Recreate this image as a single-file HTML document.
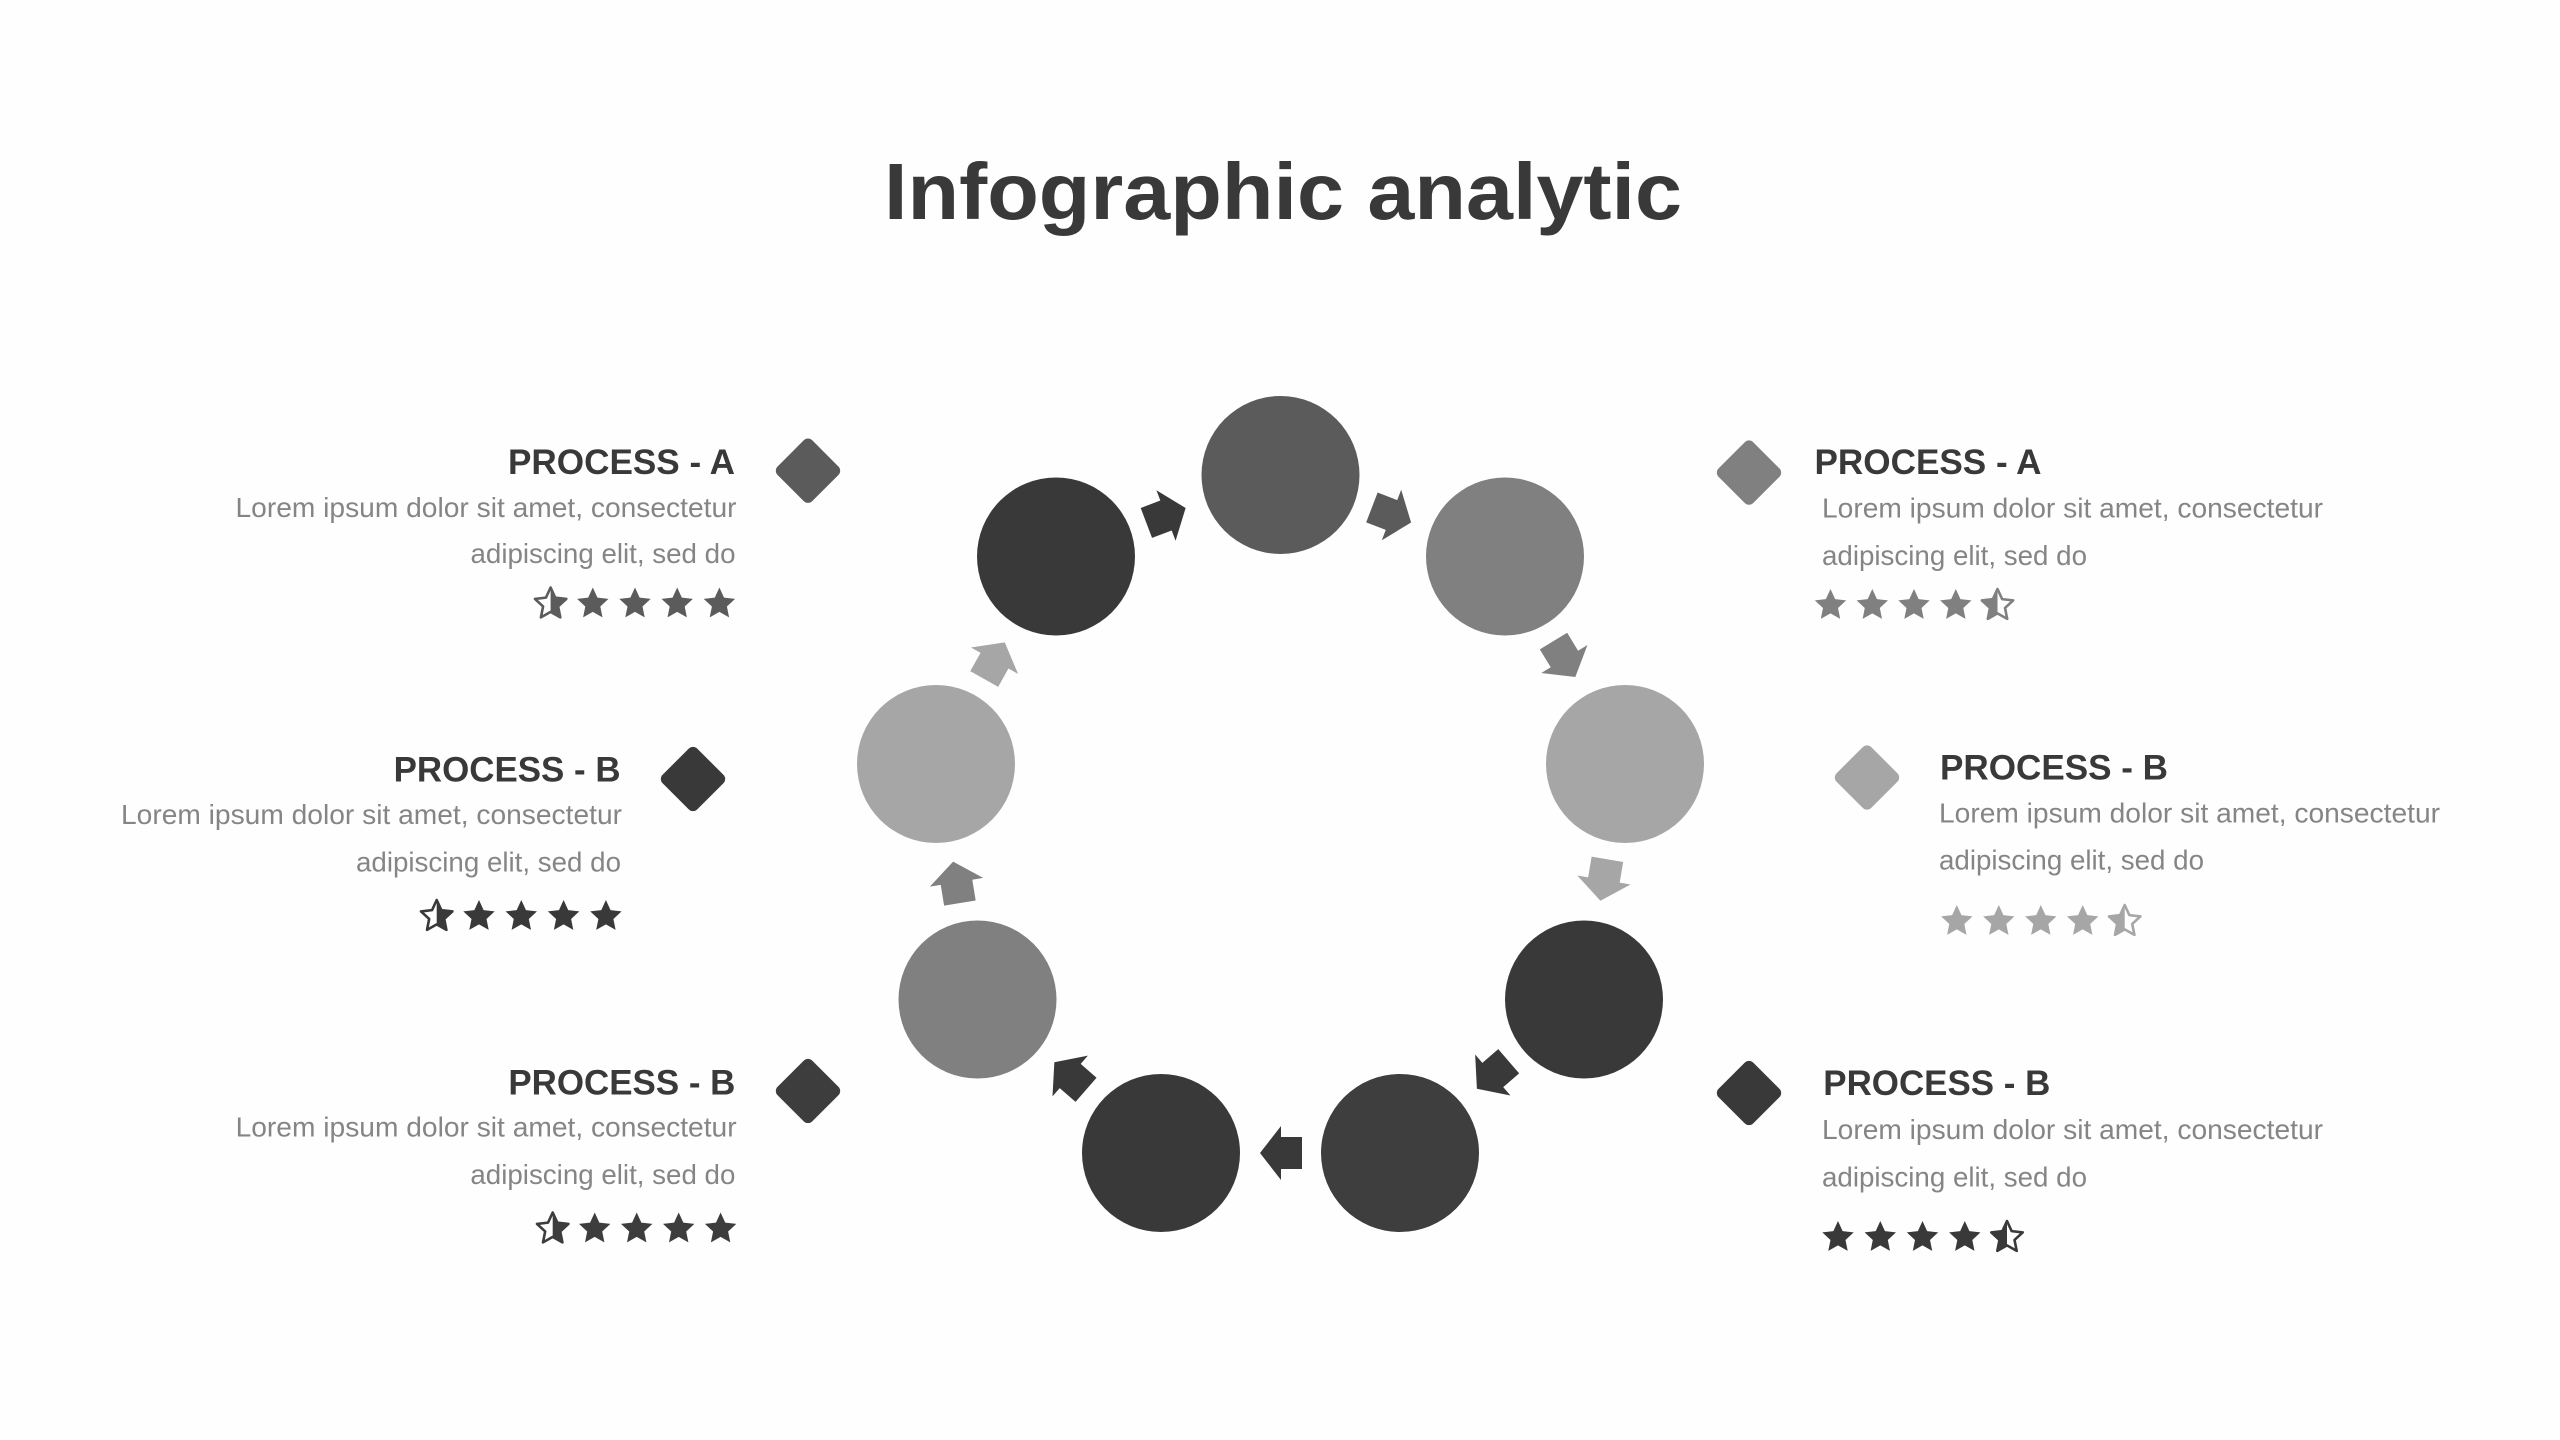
<!DOCTYPE html>
<html>
<head>
<meta charset="utf-8">
<style>
  html,body{margin:0;padding:0;background:#fefefe;}
  body{width:2560px;height:1440px;overflow:hidden;}
  svg{display:block;}
  .t{font-family:"Liberation Sans",Arial,sans-serif;}
  .h{font-size:35px;font-weight:bold;fill:#3a3939;}
  .b{font-size:28px;fill:#858585;}
</style>
</head>
<body>
<svg width="2560" height="1440" viewBox="0 0 2560 1440" xmlns="http://www.w3.org/2000/svg">
  <defs>
    <path id="s" d="M0,-16.5 L4.64,-6.39 L15.69,-5.1 L7.51,2.44 L9.7,13.35 L0,7.9 L-9.7,13.35 L-7.51,2.44 L-15.69,-5.1 L-4.64,-6.39 Z"/>
    <path id="ar" d="M-21,-16 L0,-16 L0,-27 L21,0 L0,27 L0,16 L-21,16 Z"/>
    <rect id="dm" x="-24.5" y="-24.5" width="49" height="49" rx="6" ry="6"/>
    <clipPath id="lh"><rect x="-30" y="-30" width="30" height="60"/></clipPath>
    <clipPath id="rh"><rect x="0" y="-30" width="30" height="60"/></clipPath>
  </defs>

  <rect width="2560" height="1440" fill="#fefefe"/>

  <!-- Title -->
  <text class="t" x="1283" y="219" font-size="80" font-weight="bold" fill="#3a3939" text-anchor="middle" textLength="798" lengthAdjust="spacingAndGlyphs">Infographic analytic</text>

  <!-- Circles -->
  <circle cx="1280.5" cy="475" r="79" fill="#5b5b5b"/>
  <circle cx="1056" cy="556.5" r="79" fill="#3a3939"/>
  <circle cx="1505" cy="556.5" r="79" fill="#808080"/>
  <circle cx="936" cy="764" r="79" fill="#a6a6a6"/>
  <circle cx="1625" cy="764" r="79" fill="#a6a6a6"/>
  <circle cx="977.5" cy="999.5" r="79" fill="#808080"/>
  <circle cx="1584" cy="999.5" r="79" fill="#3a3939"/>
  <circle cx="1161" cy="1153" r="79" fill="#3a3939"/>
  <circle cx="1400" cy="1153" r="79" fill="#3e3e3e"/>

  <!-- Arrows -->
  <use href="#ar" fill="#3a3939" transform="translate(1166,515.5) rotate(-20.8)"/>
  <use href="#ar" fill="#5b5b5b" transform="translate(1391.5,515) rotate(21)"/>
  <use href="#ar" fill="#808080" transform="translate(1564.4,659) rotate(58.7)"/>
  <use href="#ar" fill="#a6a6a6" transform="translate(1603.9,880) rotate(99.6)"/>
  <use href="#ar" fill="#3a3939" transform="translate(1492.8,1075) rotate(139.2)"/>
  <use href="#ar" fill="#3a3939" transform="translate(1281,1153) rotate(180)"/>
  <use href="#ar" fill="#3a3939" transform="translate(1070.2,1076) rotate(-139)"/>
  <use href="#ar" fill="#808080" transform="translate(956.5,882.3) rotate(-99.3)"/>
  <use href="#ar" fill="#a6a6a6" transform="translate(994.5,660.7) rotate(-60.7)"/>

  <!-- Diamonds -->
  <use href="#dm" fill="#5b5b5b" transform="translate(808,470.7) rotate(45)"/>
  <use href="#dm" fill="#3a3939" transform="translate(693,779) rotate(45)"/>
  <use href="#dm" fill="#3d3d3d" transform="translate(808,1091) rotate(45)"/>
  <use href="#dm" fill="#808080" transform="translate(1749,472.6) rotate(45)"/>
  <use href="#dm" fill="#a6a6a6" transform="translate(1867,777.5) rotate(45)"/>
  <use href="#dm" fill="#3a3939" transform="translate(1749,1093) rotate(45)"/>

  <!-- Left A -->
  <text class="t h" x="735" y="474" text-anchor="end" textLength="227" lengthAdjust="spacingAndGlyphs">PROCESS - A</text>
  <text class="t b" x="736.5" y="517" text-anchor="end" textLength="501" lengthAdjust="spacingAndGlyphs">Lorem ipsum dolor sit amet, consectetur</text>
  <text class="t b" x="735.5" y="563" text-anchor="end" textLength="265" lengthAdjust="spacingAndGlyphs">adipiscing elit, sed do</text>
  <g fill="#5b5b5b">
    <g transform="translate(550.6,604)"><use href="#s" fill="none" stroke="#5b5b5b" stroke-width="2.6" stroke-linejoin="round"/><use href="#s" clip-path="url(#rh)"/></g>
    <use href="#s" x="592.8" y="604"/>
    <use href="#s" x="635" y="604"/>
    <use href="#s" x="677.2" y="604"/>
    <use href="#s" x="719.4" y="604"/>
  </g>

  <!-- Left B (middle) -->
  <text class="t h" x="620.6" y="781.7" text-anchor="end" textLength="227" lengthAdjust="spacingAndGlyphs">PROCESS - B</text>
  <text class="t b" x="622" y="824" text-anchor="end" textLength="501" lengthAdjust="spacingAndGlyphs">Lorem ipsum dolor sit amet, consectetur</text>
  <text class="t b" x="621" y="871.5" text-anchor="end" textLength="265" lengthAdjust="spacingAndGlyphs">adipiscing elit, sed do</text>
  <g fill="#3a3939">
    <g transform="translate(436.7,916.5)"><use href="#s" fill="none" stroke="#3a3939" stroke-width="2.6" stroke-linejoin="round"/><use href="#s" clip-path="url(#rh)"/></g>
    <use href="#s" x="479" y="916.5"/>
    <use href="#s" x="521.3" y="916.5"/>
    <use href="#s" x="563.6" y="916.5"/>
    <use href="#s" x="605.9" y="916.5"/>
  </g>

  <!-- Left B (bottom) -->
  <text class="t h" x="735.4" y="1094.3" text-anchor="end" textLength="227" lengthAdjust="spacingAndGlyphs">PROCESS - B</text>
  <text class="t b" x="736.6" y="1136.7" text-anchor="end" textLength="501" lengthAdjust="spacingAndGlyphs">Lorem ipsum dolor sit amet, consectetur</text>
  <text class="t b" x="735.4" y="1184" text-anchor="end" textLength="265" lengthAdjust="spacingAndGlyphs">adipiscing elit, sed do</text>
  <g fill="#3d3d3d">
    <g transform="translate(552.7,1229)"><use href="#s" fill="none" stroke="#3d3d3d" stroke-width="2.6" stroke-linejoin="round"/><use href="#s" clip-path="url(#rh)"/></g>
    <use href="#s" x="594.7" y="1229"/>
    <use href="#s" x="636.7" y="1229"/>
    <use href="#s" x="678.7" y="1229"/>
    <use href="#s" x="720.6" y="1229"/>
  </g>

  <!-- Right A -->
  <text class="t h" x="1814.5" y="474" textLength="227" lengthAdjust="spacingAndGlyphs">PROCESS - A</text>
  <text class="t b" x="1822" y="517.5" textLength="501" lengthAdjust="spacingAndGlyphs">Lorem ipsum dolor sit amet, consectetur</text>
  <text class="t b" x="1822" y="565" textLength="265" lengthAdjust="spacingAndGlyphs">adipiscing elit, sed do</text>
  <g fill="#808080">
    <use href="#s" x="1830.5" y="605.5"/>
    <use href="#s" x="1872.3" y="605.5"/>
    <use href="#s" x="1914" y="605.5"/>
    <use href="#s" x="1955.8" y="605.5"/>
    <g transform="translate(1997.5,605.5)"><use href="#s" fill="none" stroke="#808080" stroke-width="2.6" stroke-linejoin="round"/><use href="#s" clip-path="url(#lh)"/></g>
  </g>

  <!-- Right B (middle) -->
  <text class="t h" x="1940" y="779.3" textLength="228" lengthAdjust="spacingAndGlyphs">PROCESS - B</text>
  <text class="t b" x="1939" y="822.3" textLength="501" lengthAdjust="spacingAndGlyphs">Lorem ipsum dolor sit amet, consectetur</text>
  <text class="t b" x="1939" y="869.3" textLength="265" lengthAdjust="spacingAndGlyphs">adipiscing elit, sed do</text>
  <g fill="#a6a6a6">
    <use href="#s" x="1956.8" y="921.5"/>
    <use href="#s" x="1998.8" y="921.5"/>
    <use href="#s" x="2040.8" y="921.5"/>
    <use href="#s" x="2082.7" y="921.5"/>
    <g transform="translate(2124.7,921.5)"><use href="#s" fill="none" stroke="#a6a6a6" stroke-width="2.6" stroke-linejoin="round"/><use href="#s" clip-path="url(#lh)"/></g>
  </g>

  <!-- Right B (bottom) -->
  <text class="t h" x="1823.3" y="1095" textLength="227" lengthAdjust="spacingAndGlyphs">PROCESS - B</text>
  <text class="t b" x="1822" y="1139" textLength="501" lengthAdjust="spacingAndGlyphs">Lorem ipsum dolor sit amet, consectetur</text>
  <text class="t b" x="1822" y="1186.5" textLength="265" lengthAdjust="spacingAndGlyphs">adipiscing elit, sed do</text>
  <g fill="#3a3939">
    <use href="#s" x="1838" y="1237.5"/>
    <use href="#s" x="1880.3" y="1237.5"/>
    <use href="#s" x="1922.5" y="1237.5"/>
    <use href="#s" x="1964.8" y="1237.5"/>
    <g transform="translate(2007,1237.5)"><use href="#s" fill="none" stroke="#3a3939" stroke-width="2.6" stroke-linejoin="round"/><use href="#s" clip-path="url(#lh)"/></g>
  </g>
</svg>
</body>
</html>
